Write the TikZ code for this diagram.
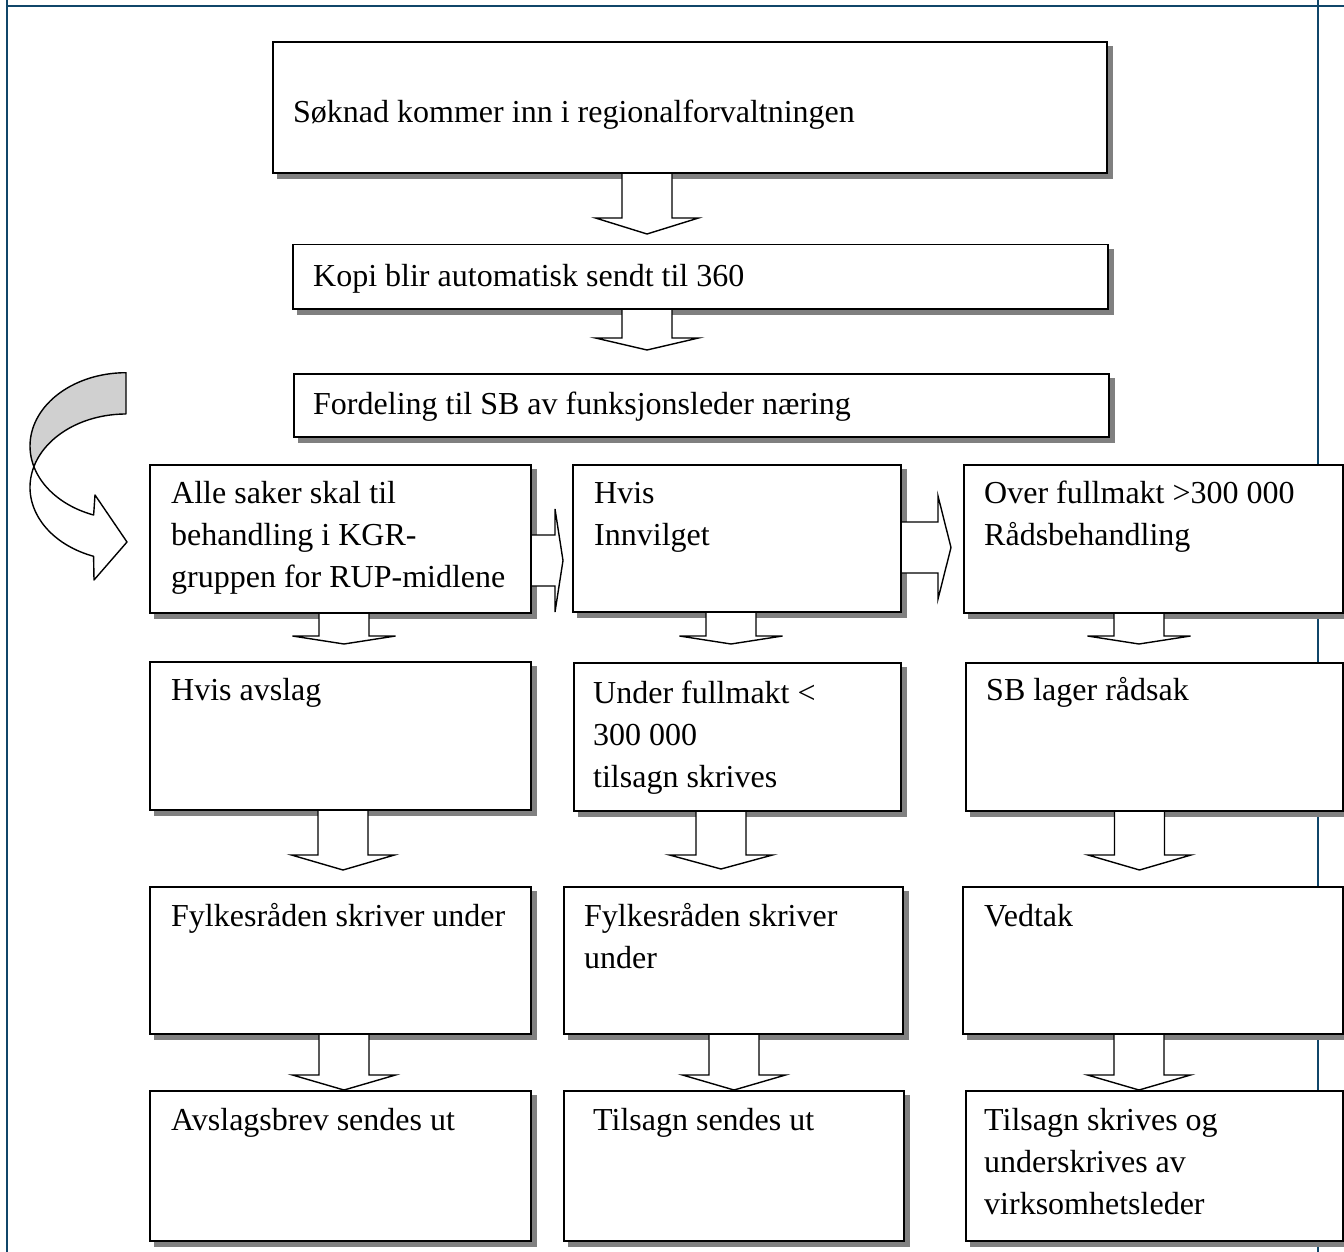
\documentclass[tikz,border=0pt]{standalone}
\usepackage{fontspec}
\setmainfont{Liberation Serif}
\usetikzlibrary{calc}

\pgfdeclarelayer{bg}
\pgfdeclarelayer{shade}
\pgfdeclarelayer{arrows}
\pgfsetlayers{bg,shade,arrows,main}

\definecolor{frameblue}{RGB}{16,70,105}
\definecolor{shadowgray}{RGB}{128,128,128}
\definecolor{ribbongray}{RGB}{208,208,208}

\tikzset{
  box/.style={draw=black, fill=white, line width=1.5pt, inner sep=0pt, anchor=north west},
  txt/.style={font=\fontsize{32}{42}\selectfont, inner sep=0pt, anchor=base west},
  blockarrow/.style={draw=black, fill=white, line width=1.4pt, line join=miter},
  frameline/.style={draw=frameblue, line width=2.2pt},
  ribbon/.style={draw=black, line width=1.4pt, line join=round},
}

% block arrow pointing down, starting at the bottom edge of a box
% #1 source box, #2 axis x, #3 y of the head base, #4 y of the tip
\newcommand{\downblock}[4]{%
  \begin{pgfonlayer}{arrows}
  \draw[blockarrow] let \p1=(#1.south) in
    ({(#2-25)*1pt},\y1) -- ({(#2-25)*1pt},{-(#3)*1pt})
    -- ({(#2-51.5)*1pt},{-(#3)*1pt}) -- ({(#2)*1pt},{-(#4)*1pt})
    -- ({(#2+51.5)*1pt},{-(#3)*1pt}) -- ({(#2+25)*1pt},{-(#3)*1pt})
    -- ({(#2+25)*1pt},\y1);
  \end{pgfonlayer}}

% block arrow pointing right, starting at the right edge of a box
% #1 source box, #2 axis y, #3 x of the head base, #4 x of the tip
\newcommand{\rightblock}[4]{%
  \begin{pgfonlayer}{arrows}
  \draw[blockarrow] let \p1=(#1.east) in
    (\x1,{-(#2-25.5)*1pt}) -- ({(#3)*1pt},{-(#2-25.5)*1pt})
    -- ({(#3)*1pt},{-(#2-51.5)*1pt}) -- ({(#4)*1pt},{-(#2)*1pt})
    -- ({(#3)*1pt},{-(#2+51.5)*1pt}) -- ({(#3)*1pt},{-(#2+25.5)*1pt})
    -- (\x1,{-(#2+25.5)*1pt});
  \end{pgfonlayer}}

\begin{document}
\begin{tikzpicture}[x=1pt,y=-1pt]
\useasboundingbox (0,0) rectangle (1344,1252);

% page frame
\begin{pgfonlayer}{bg}
  \draw[frameline] (7,0) -- (7,1252);
  \draw[frameline] (7,6) -- (1344,6);
  \draw[frameline] (1318,0) -- (1318,1252);
\end{pgfonlayer}

% boxes
\node[box, minimum width=834pt, minimum height=131pt, line width=1.9pt] (A) at (272,41) {};
\node[box, minimum width=815pt, minimum height=64pt] (B) at (292,244) {};
\node[box, minimum width=815pt, minimum height=63pt] (C) at (293,373) {};

\node[box, minimum width=381pt, minimum height=148pt] (D) at (149,464) {};
\node[box, minimum width=328pt, minimum height=147pt] (E) at (572,464) {};
\node[box, minimum width=379pt, minimum height=148pt] (F) at (963,464) {};

\node[box, minimum width=381pt, minimum height=148pt] (G) at (149,661) {};
\node[box, minimum width=327pt, minimum height=148pt] (H) at (573,662) {};
\node[box, minimum width=377pt, minimum height=148pt] (I) at (965,662) {};

\node[box, minimum width=381pt, minimum height=147pt] (J) at (149,886) {};
\node[box, minimum width=339pt, minimum height=147pt] (K) at (563,886) {};
\node[box, minimum width=380pt, minimum height=147pt] (L) at (962,886) {};

\node[box, minimum width=381pt, minimum height=150pt] (M) at (149,1090) {};
\node[box, minimum width=340pt, minimum height=150pt] (N) at (563,1090) {};
\node[box, minimum width=377pt, minimum height=150pt] (O) at (965,1090) {};

% drop shadows
\begin{pgfonlayer}{shade}
  \foreach \n in {A,B,C,D,E,F,G,H,I,J,K,L,M,N,O}{
    \fill[shadowgray] ($(\n.north west)+(5,5)$) rectangle ($(\n.south east)+(5,5)$);
  }
\end{pgfonlayer}

% texts
\node[txt] (At) at (293,123) {Søknad kommer inn i regionalforvaltningen};
\node[txt] (Bt) at (313,286) {Kopi blir automatisk sendt til 360};
\node[txt] (Ct) at (313,414) {Fordeling til SB av funksjonsleder næring};

\node[txt] (Dt) at (171,503) {\vtop{\hbox{Alle saker skal til}\hbox{behandling i KGR-}\hbox{gruppen for RUP-midlene}}};
\node[txt] (Et) at (594,503) {\vtop{\hbox{Hvis}\hbox{Innvilget}}};
\node[txt] (Ft) at (984,503) {\vtop{\hbox{Over fullmakt >300 000}\hbox{Rådsbehandling}}};

\node[txt] (Gt) at (171,700) {Hvis avslag};
\node[txt] (Ht) at (593,703) {\vtop{\hbox{Under fullmakt <}\hbox{300 000}\hbox{tilsagn skrives}}};
\node[txt] (It) at (986,700) {SB lager rådsak};

\node[txt] (Jt) at (171,926) {Fylkesråden skriver under};
\node[txt] (Kt) at (584,926) {\vtop{\hbox{Fylkesråden skriver}\hbox{under}}};
\node[txt] (Lt) at (984,926) {Vedtak};

\node[txt] (Mt) at (171,1130) {Avslagsbrev sendes ut};
\node[txt] (Nt) at (593,1130) {Tilsagn sendes ut};
\node[txt] (Ot) at (984,1130) {\vtop{\hbox{Tilsagn skrives og}\hbox{underskrives av}\hbox{virksomhetsleder}}};

% block arrows
\downblock{A}{647}{218}{234}
\downblock{B}{647}{338}{350}

\rightblock{D}{560.5}{555}{563}
\rightblock{E}{547.5}{938}{951}

\downblock{D}{344}{636}{644}
\downblock{E}{731}{636}{644}
\downblock{F}{1139}{636}{644}

\downblock{G}{343}{855}{870}
\downblock{H}{721}{855}{869}
\downblock{I}{1139.5}{855}{870}

\downblock{J}{344}{1075}{1090}
\downblock{K}{734}{1075}{1090}
\downblock{L}{1139}{1075}{1090}

% curved ribbon arrow on the left
\filldraw[ribbon, fill=ribbongray]
  plot[variable=\t, domain=90:196.36, samples=40, smooth] ({126+96*cos(\t)},{446-73.3*sin(\t)})
  -- plot[variable=\t, domain=163.64:90, samples=40, smooth] ({126+96*cos(\t)},{487.3-73.3*sin(\t)})
  -- cycle;
\filldraw[ribbon, fill=white]
  plot[variable=\t, domain=196.36:250.3, samples=30, smooth] ({126+96*cos(\t)},{446-73.3*sin(\t)})
  -- (95,495) -- (127,542) -- (94,580) -- (93.6,556.3)
  -- plot[variable=\t, domain=250.3:163.64, samples=40, smooth] ({126+96*cos(\t)},{487.3-73.3*sin(\t)})
  -- cycle;
\end{tikzpicture}
\end{document}
